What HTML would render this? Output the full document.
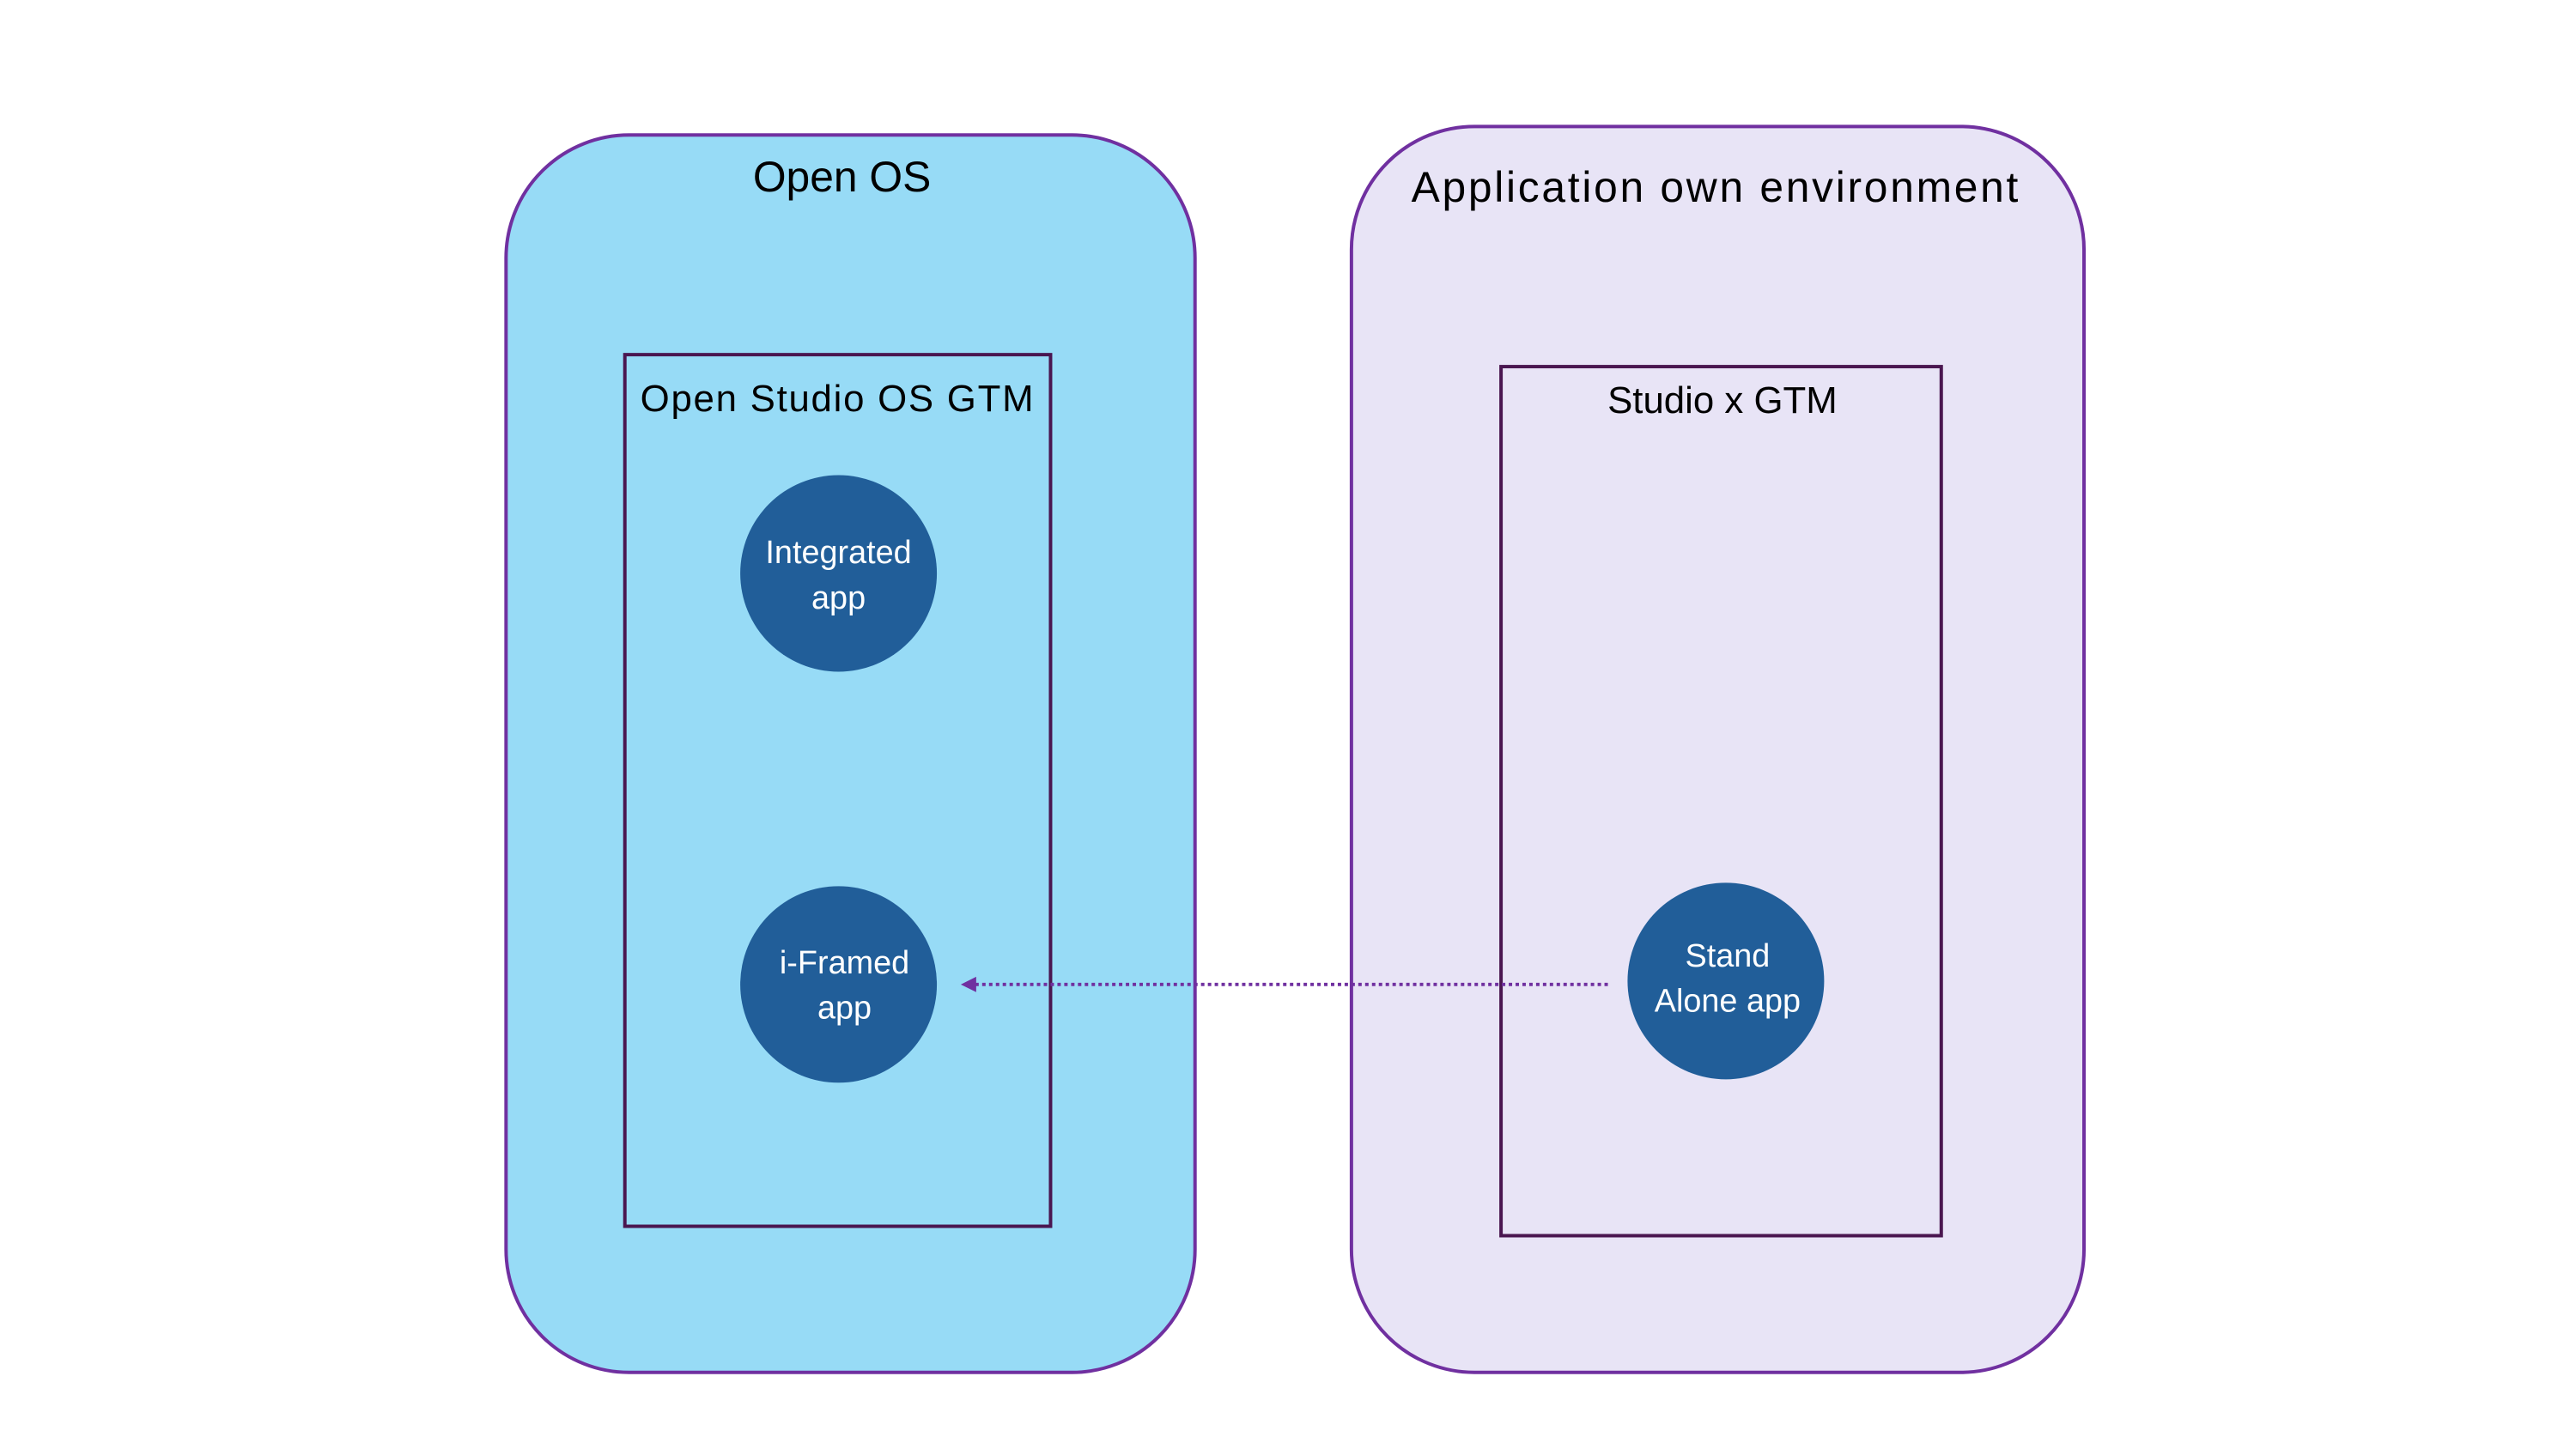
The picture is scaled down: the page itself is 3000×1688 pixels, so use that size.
<!DOCTYPE html>
<html><head><meta charset="utf-8"><style>html,body{margin:0;padding:0;background:#fff}svg{display:block}</style></head>
<body>
<svg width="3000" height="1688" viewBox="0 0 3000 1688" xmlns="http://www.w3.org/2000/svg" font-family="'Liberation Sans', sans-serif">
<g transform="scale(0.9955)">
<rect x="592" y="158" width="806" height="1448" rx="144" fill="#97dbf6" stroke="#7030a0" stroke-width="4"/>
<rect x="1581" y="148" width="857" height="1458" rx="144" fill="#e8e4f6" stroke="#7030a0" stroke-width="4"/>
<rect x="731" y="415" width="498" height="1020" fill="none" stroke="#4a1650" stroke-width="4"/>
<rect x="1756" y="429" width="515" height="1017" fill="none" stroke="#4a1650" stroke-width="4"/>
<text x="985" y="224" font-size="50" text-anchor="middle" fill="#000">Open OS</text>
<text x="2006" y="236" font-size="50" text-anchor="middle" fill="#000" textLength="710">Application own environment</text>
<text x="979" y="481" font-size="44" text-anchor="middle" fill="#000" textLength="460">Open Studio OS GTM</text>
<text x="2015" y="483" font-size="44" text-anchor="middle" fill="#000">Studio x GTM</text>
<circle cx="981" cy="671" r="115" fill="#215e99"/>
<circle cx="981" cy="1152" r="115" fill="#215e99"/>
<circle cx="2019" cy="1148" r="115" fill="#215e99"/>
<g font-size="38" fill="#fff" text-anchor="middle">
<text x="981" y="659">Integrated</text><text x="981" y="712">app</text>
<text x="988" y="1139">i-Framed</text><text x="988" y="1192">app</text>
<text x="2021" y="1131">Stand</text><text x="2021" y="1184">Alone app</text>
</g>
<line x1="1881" y1="1152" x2="1140" y2="1152" stroke="#7030a0" stroke-width="4" stroke-dasharray="4 4"/>
<polygon points="1124,1152 1142,1143 1142,1161" fill="#7030a0"/>
</g>
</svg>
</body></html>
